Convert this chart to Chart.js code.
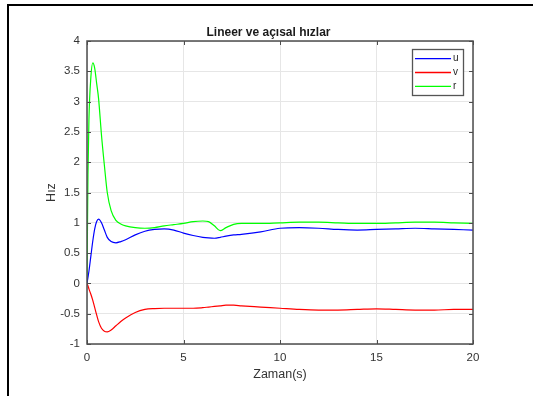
<!DOCTYPE html>
<html>
<head>
<meta charset="utf-8">
<script src="https://cdn.jsdelivr.net/npm/chart.js@4.4.0/dist/chart.umd.min.js"></script>
<style>
  html, body { margin: 0; padding: 0; background: #fff; }
  #wrap { position: relative; width: 533px; height: 396px; overflow: hidden; }
  #frame { position: absolute; left: 7px; top: 4px; width: 600px; height: 500px;
           border-left: 2px solid #000; border-top: 2px solid #000; pointer-events: none; }
  canvas { position: absolute; left: 0; top: 0; }
</style>
</head>
<body>
<div id="wrap">
  <canvas id="chart" width="533" height="396"></canvas>
  <div id="frame"></div>
</div>
<script>
const chartTitle = 'Lineer ve açısal hızlar';
const xLabel = 'Zaman(s)';
const yLabel = 'Hız';
const seriesNames = ['u', 'v', 'r'];
const seriesColors = ['#0000ff', '#ff0000', '#00ff00'];

const time = [0, 0.05, 0.1, 0.2, 0.3, 0.4, 0.5, 0.6, 0.75, 0.9, 1.05, 1.25, 1.5, 1.75, 2, 2.5, 3, 3.5, 4, 4.5,
  5, 5.5, 6, 6.3, 6.6, 6.9, 7.2, 7.6, 8, 9, 10, 11, 12, 13, 14, 15, 16, 17, 18, 19, 20];

const uValues = [0, 0.1, 0.2, 0.45, 0.7, 0.9, 1.02, 1.06, 1.0, 0.88, 0.76, 0.69, 0.67, 0.69, 0.72, 0.8, 0.86, 0.89, 0.9, 0.88,
  0.83, 0.79, 0.76, 0.75, 0.745, 0.76, 0.78, 0.8, 0.81, 0.85, 0.91, 0.92, 0.91, 0.89, 0.88, 0.89, 0.9, 0.91, 0.9, 0.89, 0.88];

const vValues = [0, -0.04, -0.09, -0.18, -0.28, -0.4, -0.52, -0.63, -0.74, -0.79, -0.8, -0.77, -0.7, -0.63, -0.57, -0.48, -0.43, -0.415, -0.41, -0.41,
  -0.41, -0.41, -0.4, -0.39, -0.38, -0.37, -0.36, -0.36, -0.37, -0.39, -0.41, -0.43, -0.44, -0.44, -0.43, -0.42, -0.43, -0.44, -0.44, -0.43, -0.43];

const rValues = [0, 1.8, 2.7, 3.4, 3.64, 3.55, 3.3, 3.05, 2.45, 1.95, 1.5, 1.2, 1.04, 0.98, 0.95, 0.92, 0.91, 0.92, 0.95, 0.97,
  0.99, 1.02, 1.03, 1.02, 0.95, 0.87, 0.92, 0.975, 0.99, 0.99, 1.0, 1.01, 1.01, 1.0, 0.99, 0.99, 1.0, 1.01, 1.01, 1.0, 0.99];

const xTicks = { min: 0, max: 20, step: 5 };
const yTicks = { min: -1, max: 4, step: 0.5 };

const FONT = "'Liberation Sans', Arial, sans-serif";

function toPoints(vals) {
  return time.map((t, i) => ({ x: t, y: vals[i] }));
}

function plainNumber(v) {
  return String(Number(v.toFixed(2)));
}

// eksen kutusu, içe dönük çentikler, lejant ve başlık
const matlabAxes = {
  id: 'matlabAxes',
  afterDatasetsDraw(chart) {
    const { ctx, chartArea: a, scales } = chart;
    ctx.save();
    ctx.strokeStyle = '#4d4d4d';
    ctx.lineWidth = 1;
    const tl = 4;
    ctx.beginPath();
    scales.x.ticks.forEach(t => {
      const px = Math.round(scales.x.getPixelForValue(t.value)) + 0.5;
      ctx.moveTo(px, a.bottom); ctx.lineTo(px, a.bottom - tl);
      ctx.moveTo(px, a.top); ctx.lineTo(px, a.top + tl);
    });
    scales.y.ticks.forEach(t => {
      const py = Math.round(scales.y.getPixelForValue(t.value)) + 0.5;
      ctx.moveTo(a.left, py); ctx.lineTo(a.left + tl, py);
      ctx.moveTo(a.right, py); ctx.lineTo(a.right - tl, py);
    });
    ctx.stroke();
    ctx.lineWidth = 1.5;
    ctx.strokeRect(a.left, a.top, a.right - a.left, a.bottom - a.top);

    // lejant
    const lx = 412.5, ly = 49.5, lw = 51, lh = 46;
    ctx.fillStyle = '#fff';
    ctx.fillRect(lx, ly, lw, lh);
    ctx.strokeStyle = '#555';
    ctx.lineWidth = 1.3;
    ctx.strokeRect(lx, ly, lw, lh);
    chart.data.datasets.forEach((ds, i) => {
      const y = 58.7 + i * 13.8;
      ctx.strokeStyle = ds.borderColor;
      ctx.lineWidth = 1.3;
      ctx.beginPath();
      ctx.moveTo(415, y); ctx.lineTo(451, y);
      ctx.stroke();
      ctx.fillStyle = '#262626';
      ctx.font = `10px ${FONT}`;
      ctx.textAlign = 'left';
      ctx.textBaseline = 'middle';
      ctx.fillText(ds.label, 453, y);
    });

    // başlık
    ctx.fillStyle = '#1a1a1a';
    ctx.font = `bold 12px ${FONT}`;
    ctx.textAlign = 'center';
    ctx.textBaseline = 'middle';
    ctx.fillText(chartTitle, 268.5, 33);
    ctx.restore();
  }
};

const values = [uValues, vValues, rValues];

new Chart(document.getElementById('chart').getContext('2d'), {
  type: 'line',
  data: {
    datasets: seriesNames.map((name, i) => ({
      label: name,
      data: toPoints(values[i]),
      borderColor: seriesColors[i],
      borderWidth: 1.2,
      pointRadius: 0,
      fill: false,
      cubicInterpolationMode: 'monotone'
    }))
  },
  options: {
    responsive: false,
    animation: false,
    layout: { padding: { left: 0, top: 41, right: 60, bottom: 0 } },
    plugins: {
      legend: { display: false },
      title: { display: false },
      tooltip: { enabled: false }
    },
    scales: {
      x: {
        type: 'linear',
        min: xTicks.min,
        max: xTicks.max,
        afterFit: s => { s.height = 52; },
        grid: { color: '#e6e6e6', lineWidth: 1, drawTicks: false },
        border: { display: false },
        ticks: { stepSize: xTicks.step, padding: 7, color: '#333', font: { family: FONT, size: 11.5 }, maxRotation: 0, callback: plainNumber },
        title: { display: true, text: xLabel, color: '#333', font: { family: FONT, size: 12.5 }, padding: { top: 0, bottom: 13.5 } }
      },
      y: {
        type: 'linear',
        min: yTicks.min,
        max: yTicks.max,
        afterFit: s => { s.width = 87; },
        grid: { color: '#e6e6e6', lineWidth: 1, drawTicks: false },
        border: { display: false },
        ticks: { stepSize: yTicks.step, padding: 7, color: '#333', font: { family: FONT, size: 11.5 }, callback: plainNumber },
        title: { display: true, text: yLabel, color: '#333', font: { family: FONT, size: 12.5 }, padding: { top: 44, bottom: 0 } }
      }
    }
  },
  plugins: [matlabAxes]
});
</script>
</body>
</html>
